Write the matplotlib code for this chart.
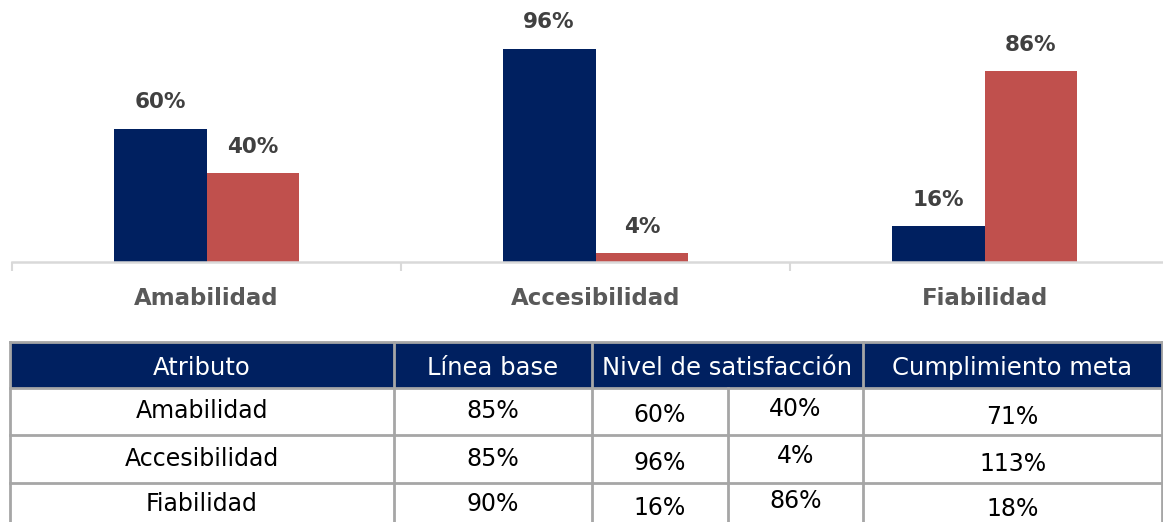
import matplotlib
matplotlib.use("Agg")
import matplotlib.pyplot as plt
from matplotlib.patches import Rectangle

# --- datos ---
atributos = ["Amabilidad", "Accesibilidad", "Fiabilidad"]
serie_1 = [60, 96, 16]      # azul
serie_2 = [40, 4, 86]       # rojo
linea_base = [85, 85, 90]
cumplimiento = [71, 113, 18]
encabezados = ["Atributo", "Línea base", "Nivel de satisfacción", "Cumplimiento meta"]

AZUL = "#002060"
ROJO = "#c0504d"
GRIS_EJE = "#d9d9d9"
GRIS_TXT = "#595959"
GRIS_ETQ = "#404040"
GRIS_TABLA = "#a6a6a6"

plt.rcParams['font.family'] = ['DejaVu Sans']

W, H = 1163, 522
fig = plt.figure(figsize=(W / 100, H / 100), dpi=100)

# --- 1. GRÁFICO DE BARRAS ---
# eje x: 12px -> 1179px (3 categorías de 389 px), base en y=262px
ax = fig.add_axes([12 / W, (H - 262) / H, 1167 / W, 262 / H])
x = list(range(len(atributos)))
ancho = 0.239
b1 = ax.bar([i - ancho / 2 for i in x], serie_1, width=ancho, color=AZUL)
b2 = ax.bar([i + ancho / 2 for i in x], serie_2, width=ancho, color=ROJO)
ax.set_xlim(-0.5, 2.5)
ax.set_ylim(0, 118)

for barras in (b1, b2):
    for rect in barras:
        v = rect.get_height()
        ax.annotate(f"{v:.0f}%", (rect.get_x() + rect.get_width() / 2, v),
                    xytext=(0, 19), textcoords="offset points",
                    ha="center", va="center", fontsize=15.5,
                    fontweight="bold", color=GRIS_ETQ)

for s in ["top", "right", "left"]:
    ax.spines[s].set_visible(False)
ax.spines["bottom"].set_color(GRIS_EJE)
ax.spines["bottom"].set_linewidth(1.8)
ax.set_yticks([])
ax.set_xticks([-0.5, 0.5, 1.5, 2.5])
ax.set_xticklabels([])
ax.tick_params(axis="x", which="major", length=6.5, width=1.5, color=GRIS_EJE)
ax.set_xticks(x, minor=True)
ax.set_xticklabels(atributos, minor=True, fontsize=16.5, fontweight="bold",
                   color=GRIS_TXT)
ax.tick_params(axis="x", which="minor", length=0, pad=18)

# --- 2. TABLA ---
tx = fig.add_axes([0, 0, 1, 1])
tx.set_xlim(0, W)
tx.set_ylim(H, 0)
tx.axis("off")

cols = [10, 394, 592, 728, 863, 1162]
filas = [342, 388, 435, 483, 531]

# encabezado
tx.add_patch(Rectangle((cols[0], filas[0]), cols[-1] - cols[0], filas[1] - filas[0],
                       facecolor=AZUL, edgecolor="none", zorder=1))
centros_enc = [(cols[0] + cols[1]) / 2, (cols[1] + cols[2]) / 2,
               (cols[2] + cols[4]) / 2, (cols[4] + cols[5]) / 2]
for txt, cx in zip(encabezados, centros_enc):
    tx.text(cx, (filas[0] + filas[1]) / 2 + 3, txt, ha="center", va="center",
            fontsize=17.5, color="white", zorder=3)

# líneas de la tabla
lw = 2
for yy in filas[:4]:
    tx.plot([cols[0], cols[-1]], [yy, yy], color=GRIS_TABLA, lw=lw, zorder=2)
for i, xx in enumerate(cols):
    y0 = filas[1] if i == 3 else filas[0]
    tx.plot([xx, xx], [y0, H + 5], color=GRIS_TABLA, lw=lw, zorder=2)

# celdas de datos (la última fila queda cortada por el borde, igual que el original)
ajuste = [0, 0, 4, -3, 5]
for r in range(len(atributos)):
    valores = [atributos[r], f"{linea_base[r]}%", f"{serie_1[r]}%",
               f"{serie_2[r]}%", f"{cumplimiento[r]}%"]
    cy = (filas[r + 1] + filas[r + 2]) / 2
    if r == len(atributos) - 1:
        cy -= 3
    for c, val in enumerate(valores):
        cx = (cols[c] + cols[c + 1]) / 2
        tx.text(cx, cy + ajuste[c], val, ha="center", va="center",
                fontsize=17, color="black", zorder=3)

fig.savefig("out.png", dpi=100)
